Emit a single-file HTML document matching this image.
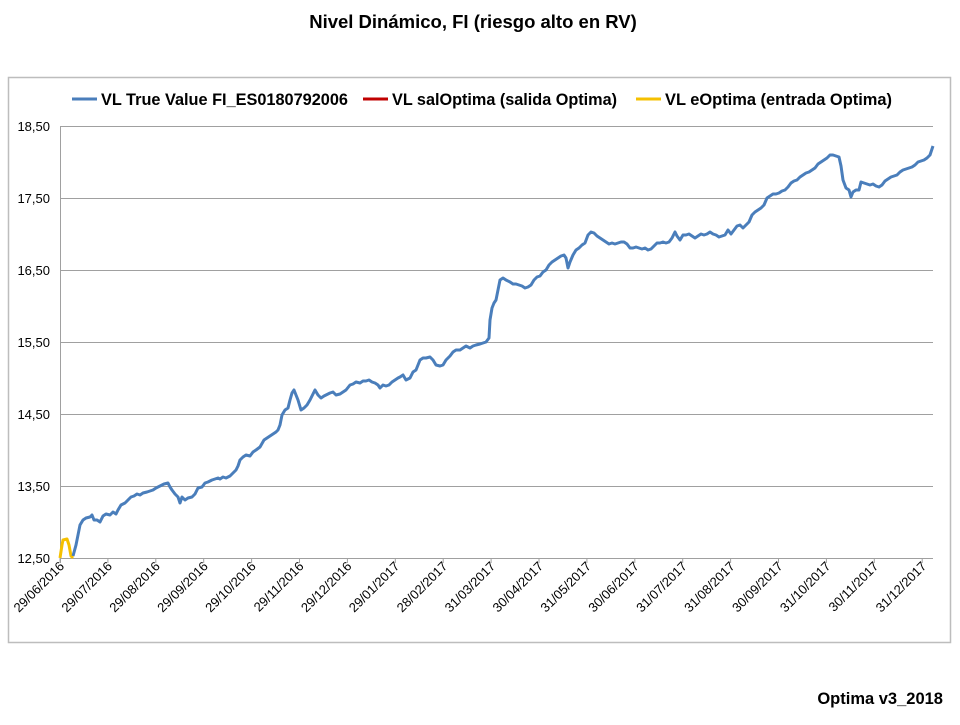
<!DOCTYPE html>
<html><head><meta charset="utf-8"><style>
body{margin:0;background:#fff;width:960px;height:720px;overflow:hidden;font-family:"Liberation Sans",sans-serif}
</style></head><body>
<svg width="960" height="720" xmlns="http://www.w3.org/2000/svg" font-family="Liberation Sans, sans-serif">
<text x="473" y="28" text-anchor="middle" font-size="18.5" font-weight="bold">Nivel Dinámico, FI (riesgo alto en RV)</text>
<rect x="8.5" y="77.5" width="942" height="565" fill="#fff" stroke="#bdbdbd" stroke-width="1.5"/>
<g stroke="#a0a0a0" stroke-width="1">
<line x1="60" y1="126.5" x2="933" y2="126.5"/><line x1="60" y1="198.5" x2="933" y2="198.5"/>
<line x1="60" y1="270.5" x2="933" y2="270.5"/><line x1="60" y1="342.5" x2="933" y2="342.5"/>
<line x1="60" y1="414.5" x2="933" y2="414.5"/><line x1="60" y1="486.5" x2="933" y2="486.5"/>
<line x1="60" y1="558.5" x2="933" y2="558.5"/><line x1="60.5" y1="126" x2="60.5" y2="563"/>
</g>
<g stroke="#a0a0a0" stroke-width="1" id="ticks"></g>
<g font-size="13" text-anchor="end" fill="#000">
<text x="50" y="131">18,50</text><text x="50" y="203">17,50</text><text x="50" y="275">16,50</text>
<text x="50" y="347">15,50</text><text x="50" y="419">14,50</text><text x="50" y="491">13,50</text><text x="50" y="563">12,50</text>
</g>
<g id="xl" font-size="13" text-anchor="end"></g>
<g font-size="16.3" font-weight="bold">
<line x1="72" y1="99" x2="97" y2="99" stroke="#4a7ebb" stroke-width="3"/>
<text x="101" y="105" textLength="247" lengthAdjust="spacingAndGlyphs">VL True Value FI_ES0180792006</text>
<line x1="363" y1="99" x2="388" y2="99" stroke="#c00000" stroke-width="3"/>
<text x="392" y="105" textLength="225" lengthAdjust="spacingAndGlyphs">VL salOptima (salida Optima)</text>
<line x1="636" y1="99" x2="661" y2="99" stroke="#f5c000" stroke-width="3"/>
<text x="665" y="105" textLength="227" lengthAdjust="spacingAndGlyphs">VL eOptima (entrada Optima)</text>
</g>
<polyline fill="none" stroke="#f5c000" stroke-width="3" stroke-linejoin="round" points="60,558 62,545 63,540 67,539 69,545 71,556 73,558"/>
<polyline fill="none" stroke="#4a7ebb" stroke-width="3" stroke-linejoin="round" points="73,556 76,545 80,525 83,520 86,518 90,517 92,515 94,520 97,520 100,522 103,516 106,514 110,515 113,512 116,514 118,510 121,505 125,503 128,500 131,497 134,496 137,494 140,495 143,493 147,492 150,491 153,490 156,488 160,486 164,484 168,483 170,487 172,490 175,494 178,497 180,503 182,497 185,500 188,498 192,497 195,494 198,488 202,487 205,483 208,482 212,480 215,479 218,478 220,479 223,477 226,478 230,476 233,473 236,470 238,466 240,460 243,457 246,455 250,456 253,452 256,450 260,447 264,440 267,438 270,436 273,434 276,432 278,430 280,425 282,415 285,410 288,408 290,400 292,393 294,390 296,395 298,400 301,410 304,408 307,405 310,400 313,394 315,390 318,395 321,398 324,396 326,395 330,393 333,392 336,395 340,394 343,392 346,390 350,385 353,384 356,382 360,383 363,381 366,381 369,380 372,382 375,383 378,385 380,388 383,385 386,386 389,385 392,382 395,380 398,378 400,377 403,375 406,380 410,378 413,372 416,370 420,360 423,358 426,358 430,357 433,360 436,365 440,366 443,365 446,360 450,356 453,352 456,350 460,350 463,348 466,346 470,348 473,346 476,345 480,344 483,343 486,342 489,338 490,320 492,308 494,303 496,300 498,290 500,280 503,278 506,280 510,282 513,284 516,284 519,285 522,286 525,288 528,287 531,285 534,280 537,277 540,276 543,272 546,270 549,265 552,262 555,260 558,258 561,256 564,255 566,258 568,268 570,262 573,255 576,250 579,248 582,245 585,243 588,235 591,232 594,233 597,236 600,238 603,240 606,242 609,244 612,243 615,244 618,243 621,242 624,242 627,244 630,248 633,248 636,247 639,248 642,249 645,248 648,250 651,249 654,246 657,243 660,243 663,242 666,243 669,242 672,238 675,232 677,236 680,240 683,235 686,235 689,234 692,236 695,238 698,236 701,234 704,235 707,234 710,232 713,234 716,235 719,237 722,236 725,235 728,230 731,234 734,230 737,226 740,225 743,228 746,225 749,222 752,215 755,212 758,210 761,208 764,205 767,198 770,196 773,194 776,194 779,193 782,191 785,190 788,187 791,183 794,181 797,180 800,177 803,175 806,173 809,172 812,170 815,168 818,164 821,162 824,160 827,158 830,155 833,155 836,156 839,157 841,166 843,180 846,188 849,190 851,197 853,192 856,190 859,190 861,182 864,183 867,184 870,185 873,184 876,186 879,187 882,185 885,181 888,179 891,177 894,176 897,175 900,172 903,170 906,169 909,168 912,167 915,165 918,162 921,161 924,160 927,158 930,155 933,146"/>
<text x="943" y="704" text-anchor="end" font-size="16.5" font-weight="bold">Optima v3_2018</text>
<script>
var L=["29/06/2016","29/07/2016","29/08/2016","29/09/2016","29/10/2016","29/11/2016","29/12/2016","29/01/2017","28/02/2017","31/03/2017","30/04/2017","31/05/2017","30/06/2017","31/07/2017","31/08/2017","30/09/2017","31/10/2017","30/11/2017","31/12/2017"];
var t=document.getElementById("ticks"),g=document.getElementById("xl"),ns="http://www.w3.org/2000/svg";
L.forEach(function(s,i){var x=60+i*47.9;
var l=document.createElementNS(ns,"line");l.setAttribute("x1",x);l.setAttribute("x2",x);l.setAttribute("y1",558);l.setAttribute("y2",563);t.appendChild(l);
var e=document.createElementNS(ns,"text");e.setAttribute("transform","translate("+(x+5)+",567) rotate(-45)");e.setAttribute("x",0);e.setAttribute("y",0);e.textContent=s;g.appendChild(e);});
</script>
</svg>
</body></html>
